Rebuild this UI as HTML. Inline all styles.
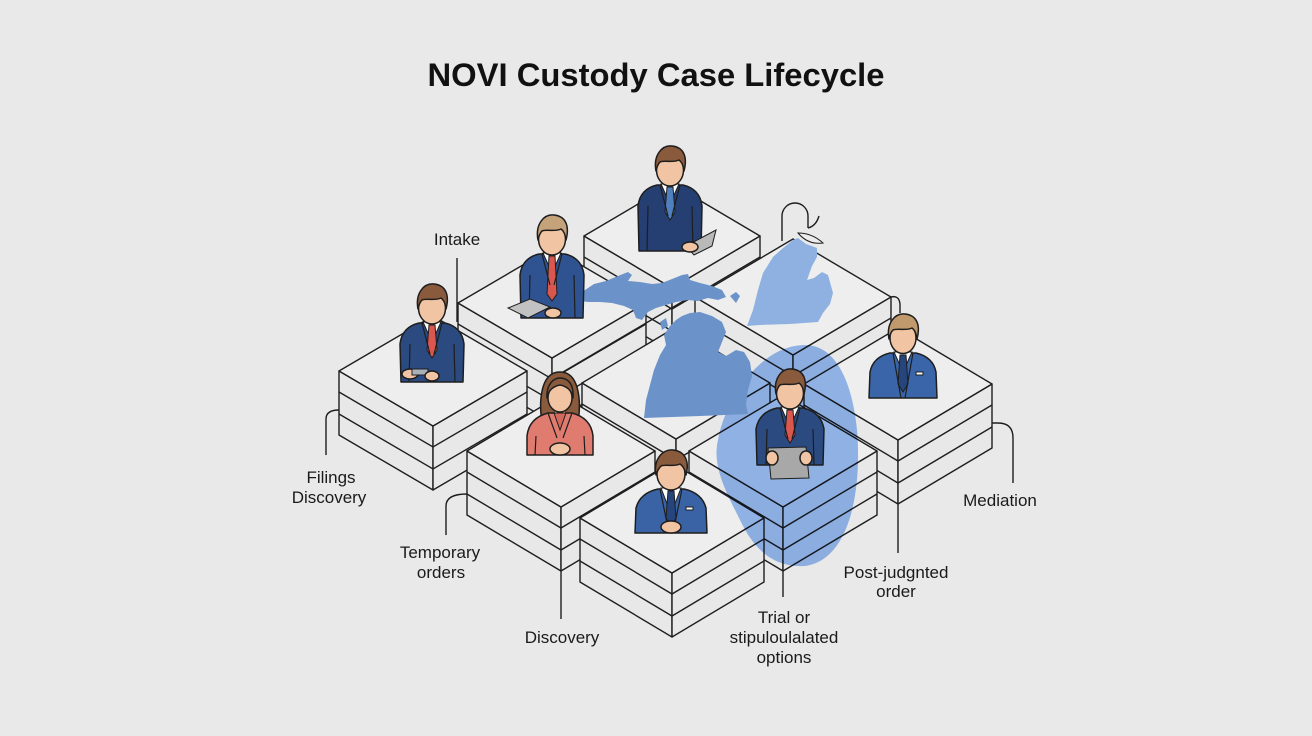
<!DOCTYPE html>
<html><head><meta charset="utf-8"><style>
html,body{margin:0;padding:0;background:#e9e9e9;}
svg{display:block;}
.s{fill:#e8e8e8;stroke:#1e1e1e;stroke-width:1.4;stroke-linejoin:round}
.t{fill:#eeeeee;stroke:#1e1e1e;stroke-width:1.4;stroke-linejoin:round}
.ln{fill:none;stroke:#1e1e1e;stroke-width:1.4}
.o{stroke:#1e1e1e;stroke-width:1.5;stroke-linejoin:round}
.o1{stroke:#1e1e1e;stroke-width:1}
.ol{fill:none;stroke:#1e1e1e;stroke-width:1.2}
.lbl{font-family:"Liberation Sans",Arial,sans-serif;font-size:17px;fill:#1a1a1a;text-anchor:middle}
</style></head><body>
<svg width="1312" height="736" viewBox="0 0 1312 736" xmlns="http://www.w3.org/2000/svg">
<rect width="1312" height="736" fill="#e9e9e9"/>
<text x="656" y="86" text-anchor="middle" font-family="Liberation Sans, Arial, sans-serif" font-size="32" font-weight="bold" fill="#111" textLength="457" lengthAdjust="spacingAndGlyphs">NOVI Custody Case Lifecycle</text>

<!-- Blocks back to front -->
<!-- C -->
<polygon class="s" points="584,236 672,288 672,352 584,300"/>
<polygon class="s" points="672,288 760,236 760,300 672,352"/>
<polygon class="t" points="672,184 760,236 672,288 584,236"/>
<path class="ln" d="M584,257 L672,309 L760,257 M584,279 L672,331 L760,279"/>
<!-- G -->
<polygon class="s" points="695,297 793,355 793,419 695,361"/>
<polygon class="s" points="793,355 891,297 891,361 793,419"/>
<polygon class="t" points="793,239 891,297 793,355 695,297"/>
<path class="ln" d="M695,318 L793,376 L891,318 M695,340 L793,398 L891,340"/>
<path class="ln" d="M891,297 Q899,295 900,304 L900,313"/>
<!-- B -->
<polygon class="s" points="458,303 552,358 552,422 458,367"/>
<polygon class="s" points="552,358 646,303 646,367 552,422"/>
<polygon class="t" points="552,248 646,303 552,358 458,303"/>
<path class="ln" d="M458,324 L552,379 L646,324 M458,346 L552,401 L646,346"/>
<path class="ln" d="M563,372 L692,296"/>
<!-- E -->
<polygon class="s" points="582,383 676,439 676,503 582,447"/>
<polygon class="s" points="676,439 770,383 770,447 676,503"/>
<polygon class="t" points="676,327 770,383 676,439 582,383"/>
<path class="ln" d="M582,404 L676,460 L770,404 M582,426 L676,482 L770,426"/>
<!-- A -->
<polygon class="s" points="339,371 433,426 433,490 339,435"/>
<polygon class="s" points="433,426 527,371 527,435 433,490"/>
<polygon class="t" points="433,316 527,371 433,426 339,371"/>
<path class="ln" d="M339,392 L433,447 L527,392 M339,414 L433,469 L527,414"/>
<!-- H -->
<polygon class="s" points="804,384 898,440 898,504 804,448"/>
<polygon class="s" points="898,440 992,384 992,448 898,504"/>
<polygon class="t" points="898,328 992,384 898,440 804,384"/>
<path class="ln" d="M804,405 L898,461 L992,405 M804,427 L898,483 L992,427"/>
<!-- D -->
<polygon class="s" points="467,451 561,507 561,571 467,515"/>
<polygon class="s" points="561,507 655,451 655,515 561,571"/>
<polygon class="t" points="561,395 655,451 561,507 467,451"/>
<path class="ln" d="M467,472 L561,528 L655,472 M467,494 L561,550 L655,494"/>
<!-- I -->
<polygon class="s" points="689,451 783,507 783,571 689,515"/>
<polygon class="s" points="783,507 877,451 877,515 783,571"/>
<polygon class="t" points="783,395 877,451 783,507 689,451"/>
<path class="ln" d="M689,472 L783,528 L877,472 M689,494 L783,550 L877,494"/>
<!-- F -->
<polygon class="s" points="580,518 672,573 672,637 580,582"/>
<polygon class="s" points="672,573 764,518 764,582 672,637"/>
<polygon class="t" points="672,463 764,518 672,573 580,518"/>
<path class="ln" d="M580,539 L672,594 L764,539 M580,561 L672,616 L764,561"/>

<!-- Blue blob -->
<path d="M805,345 C835,345 852,380 857,430 C862,490 850,560 805,566 C770,568 752,545 740,520 C725,490 712,465 718,440 C725,400 760,345 805,345 Z" fill="#9abef5" style="mix-blend-mode:multiply"/>

<!-- Maps -->
<path fill="#6b93c9" d="M577,297 L585,290 L594,284 L606,281 L618,276 L628,272 L632,275 L628,281 L640,282 L652,284 L662,283 L672,279 L682,275 L688,274 L690,280 L700,283 L712,286 L722,290 L726,297 L718,300 L708,298 L698,301 L688,300 L676,302 L666,305 L656,308 L648,312 L642,320 L636,318 L633,310 L624,306 L612,303 L600,302 L588,302 L580,301 Z"/>
<path fill="#6b93c9" d="M730,296 L736,292 L740,296 L736,303 Z"/>
<path fill="#6b93c9" d="M690,313 L700,312 L712,316 L722,322 L726,332 L722,342 L718,352 L726,356 L736,350 L744,352 L750,362 L752,376 L748,390 L746,404 L748,414 L700,416 L644,418 L646,400 L650,385 L654,370 L660,355 L666,345 L664,335 L670,326 L676,320 L682,316 Z"/>
<path fill="#6b93c9" d="M660,322 L666,318 L668,326 L662,330 Z"/>
<path fill="#8eb1e2" d="M793,240 L798,238 L806,244 L817,248 L817,257 L812,266 L807,280 L814,278 L822,272 L828,275 L833,293 L830,304 L823,313 L818,322 L790,324 L760,325 L747,326 L753,310 L758,290 L763,273 L773,257 L783,248 Z"/>

<!-- Bubble -->
<path class="ln" d="M782,241 L782,216 A13,13 0 0 1 808,216 L808,228"/>
<path class="ln" d="M808,228 Q816,226 819,216"/>
<path class="o1" fill="#ececec" d="M798,233 Q812,233 823,243 Q808,245 798,233 Z"/>

<!-- Person A -->
<g transform="translate(432,308)">
<path class="o" fill="#2a4a80" d="M-31,74 L-32,36 Q-30,19 -13,15 L13,15 Q30,19 32,36 L31,74 Z"/>
<path fill="#f1c4a3" d="M-6,6 L-6,16 L6,16 L6,6 Z"/>
<path class="o1" fill="#fff" d="M-9,14 L0,34 L9,14 Z"/>
<path class="o1" fill="#d9574f" d="M-3,17 L3,17 L5,42 L0,50 L-5,42 Z"/>
<path class="ol" d="M-10,15 L-2,46 M10,15 L2,46 M-22,36 L-23,74 M22,36 L23,74"/>
<ellipse class="o" fill="#f1c4a3" cx="0" cy="0" rx="13.5" ry="16"/>
<path class="o" fill="#8a5a3c" d="M-14,1 C-17,-15 -8,-25 2,-24 C13,-23 18,-14 14,1 C13,-5 12,-8 9,-10 C3,-7 -5,-10 -10,-8 C-13,-5 -13,-2 -14,1 Z"/>
<ellipse class="o" fill="#f1c4a3" cx="-22" cy="66" rx="8" ry="5"/>
<rect class="o1" fill="#a9b0b8" x="-20" y="61" width="16" height="6"/>
<ellipse class="o" fill="#f1c4a3" cx="0" cy="68" rx="7" ry="5"/>
</g>

<!-- Person B -->
<g transform="translate(552,239)">
<path class="o" fill="#2f5391" d="M-31,79 L-32,36 Q-30,19 -13,15 L13,15 Q30,19 32,36 L31,79 Z"/>
<path fill="#f1c4a3" d="M-6,6 L-6,16 L6,16 L6,6 Z"/>
<path class="o1" fill="#fff" d="M-9,14 L0,34 L9,14 Z"/>
<path class="o1" fill="#d9574f" d="M-3,17 L3,17 L5,55 L0,62 L-5,55 Z"/>
<path class="ol" d="M-10,15 L-2,46 M10,15 L2,46 M-22,36 L-23,79 M22,36 L23,79"/>
<ellipse class="o" fill="#f1c4a3" cx="0" cy="0" rx="13.5" ry="16"/>
<path class="o" fill="#c4a27a" d="M-14,1 C-17,-15 -8,-25 2,-24 C13,-23 18,-14 14,1 C13,-5 12,-8 9,-10 C3,-7 -5,-10 -10,-8 C-13,-5 -13,-2 -14,1 Z"/>
</g>
<polygon class="o1" fill="#c2c2c2" points="508,308 530,299 550,307 528,318"/>
<ellipse class="o" fill="#f1c4a3" cx="553" cy="313" rx="8" ry="5"/>

<!-- Person C -->
<g transform="translate(670,170)">
<path class="o" fill="#263f73" d="M-31,81 L-32,36 Q-30,19 -13,15 L13,15 Q30,19 32,36 L31,81 Z"/>
<path fill="#f1c4a3" d="M-6,6 L-6,16 L6,16 L6,6 Z"/>
<path class="o1" fill="#fff" d="M-9,14 L0,34 L9,14 Z"/>
<path class="o1" fill="#4f7fbf" d="M-3,17 L3,17 L5,42 L0,50 L-5,42 Z"/>
<path class="ol" d="M-10,15 L-2,46 M10,15 L2,46 M-22,36 L-23,81 M22,36 L23,81"/>
<ellipse class="o" fill="#f1c4a3" cx="0" cy="0" rx="13.5" ry="16"/>
<path class="o" fill="#8a5a3c" d="M-14,1 C-17,-15 -8,-25 2,-24 C13,-23 18,-14 14,1 C13,-5 12,-8 9,-10 C3,-7 -5,-10 -10,-8 C-13,-5 -13,-2 -14,1 Z"/>
</g>
<polygon class="o1" fill="#b9b9b9" points="686,246 716,230 712,246 694,255"/>
<ellipse class="o" fill="#f1c4a3" cx="690" cy="247" rx="8" ry="5"/>

<!-- Woman D -->
<g transform="translate(560,398)">
<path class="o" fill="#8a5a3c" d="M-17,30 C-22,5 -20,-26 0,-26 C20,-26 22,5 17,30 Z"/>
<path class="o" fill="#e07b6f" d="M-33,57 L-33,38 Q-31,20 -12,15 L12,15 Q31,20 33,38 L33,57 Z"/>
<path fill="#f1c4a3" d="M-5,8 L-5,16 L5,16 L5,8 Z"/>
<path class="o1" fill="#d4685d" d="M-6,15 L0,32 L6,15 Z"/>
<path class="ol" d="M-12,15 L-3,40 M12,15 L3,40 M-24,38 L-25,57 M24,38 L25,57"/>
<ellipse class="o" fill="#f1c4a3" cx="0" cy="0" rx="12" ry="14"/>
<path class="o" fill="#8a5a3c" d="M-13,0 C-14,-14 -6,-20 0,-20 C8,-20 14,-14 13,0 C12,-8 6,-12 0,-13 C-6,-12 -12,-8 -13,0 Z"/>
<ellipse class="o" fill="#f1c4a3" cx="0" cy="51" rx="10" ry="6"/>
</g>

<!-- Person I -->
<g transform="translate(790,393)">
<path class="o" fill="#2a4a80" d="M-33,72 L-34,36 Q-31,19 -13,15 L13,15 Q31,19 34,36 L33,72 Z"/>
<path fill="#f1c4a3" d="M-6,6 L-6,16 L6,16 L6,6 Z"/>
<path class="o1" fill="#fff" d="M-9,14 L0,34 L9,14 Z"/>
<path class="o1" fill="#d9574f" d="M-3,17 L3,17 L5,42 L0,50 L-5,42 Z"/>
<path class="ol" d="M-10,15 L-2,46 M10,15 L2,46 M-23,36 L-24,72 M23,36 L24,72"/>
<ellipse class="o" fill="#f1c4a3" cx="0" cy="0" rx="13.5" ry="16"/>
<path class="o" fill="#8a5a3c" d="M-14,1 C-17,-15 -8,-25 2,-24 C13,-23 18,-14 14,1 C13,-5 12,-8 9,-10 C3,-7 -5,-10 -10,-8 C-13,-5 -13,-2 -14,1 Z"/>
</g>
<polygon class="o1" fill="#a8a8a8" points="768,448 806,447 809,478 771,479"/>
<ellipse class="o" fill="#f1c4a3" cx="772" cy="458" rx="6" ry="7"/>
<ellipse class="o" fill="#f1c4a3" cx="806" cy="458" rx="6" ry="7"/>

<!-- Person H -->
<g transform="translate(903,338)">
<path class="o" fill="#3a65a8" d="M-34,60 L-33,34 Q-30,19 -13,15 L13,15 Q30,19 33,34 L34,60 Z"/>
<path fill="#f1c4a3" d="M-6,6 L-6,16 L6,16 L6,6 Z"/>
<path class="o1" fill="#fff" d="M-9,14 L0,34 L9,14 Z"/>
<path class="o1" fill="#27457d" d="M-3,17 L3,17 L5,46 L0,54 L-5,46 Z"/>
<path class="ol" d="M-10,15 L-2,60 M10,15 L2,60"/>
<rect fill="#fff" class="o1" x="13" y="34" width="7" height="3"/>
<ellipse class="o" fill="#f1c4a3" cx="0" cy="0" rx="13" ry="15.5"/>
<path class="o" fill="#c09a6c" d="M-14,1 C-17,-15 -8,-25 2,-24 C13,-23 18,-14 14,1 C13,-5 12,-8 9,-10 C3,-7 -5,-10 -10,-8 C-13,-5 -13,-2 -14,1 Z"/>
</g>

<!-- Person F -->
<g transform="translate(671,474)">
<path class="o" fill="#3a63a6" d="M-36,59 L-35,34 Q-31,19 -13,15 L13,15 Q31,19 35,34 L36,59 Z"/>
<path fill="#f1c4a3" d="M-6,6 L-6,16 L6,16 L6,6 Z"/>
<path class="o1" fill="#fff" d="M-10,14 L0,40 L10,14 Z"/>
<path class="o1" fill="#27457d" d="M-3,17 L3,17 L5,44 L0,52 L-5,44 Z"/>
<path class="ol" d="M-11,15 L-2,59 M11,15 L2,59"/>
<rect fill="#fff" class="o1" x="15" y="33" width="7" height="3"/>
<ellipse class="o" fill="#f1c4a3" cx="0" cy="0" rx="14" ry="16"/>
<path class="o" fill="#8a5a3c" d="M-15,1 C-18,-15 -8,-25 2,-24 C13,-23 19,-14 15,1 C14,-5 12,-8 9,-10 C3,-7 -5,-10 -10,-8 C-13,-5 -14,-2 -15,1 Z"/>
<ellipse class="o" fill="#f1c4a3" cx="0" cy="53" rx="10" ry="6"/>
</g>

<!-- Leader lines -->
<path class="ln" d="M457,258 L457,322"/>
<path class="ln" d="M326,455 L326,419 Q326,410 339,410"/>
<path class="ln" d="M446,535 L446,506 Q446,494 467,494"/>
<path class="ln" d="M561,571 L561,619"/>
<path class="ln" d="M783,571 L783,597"/>
<path class="ln" d="M898,504 L898,553"/>
<path class="ln" d="M992,423 L998,423 Q1013,423 1013,438 L1013,483"/>

<!-- Labels -->
<text class="lbl" x="457" y="245">Intake</text>
<text class="lbl" x="331" y="483">Filings</text>
<text class="lbl" x="329" y="503">Discovery</text>
<text class="lbl" x="440" y="558">Temporary</text>
<text class="lbl" x="441" y="578">orders</text>
<text class="lbl" x="562" y="643">Discovery</text>
<text class="lbl" x="784" y="623">Trial or</text>
<text class="lbl" x="784" y="643">stipuloulalated</text>
<text class="lbl" x="784" y="663">options</text>
<text class="lbl" x="896" y="578">Post-judgnted</text>
<text class="lbl" x="896" y="597">order</text>
<text class="lbl" x="1000" y="506">Mediation</text>
</svg>
</body></html>
